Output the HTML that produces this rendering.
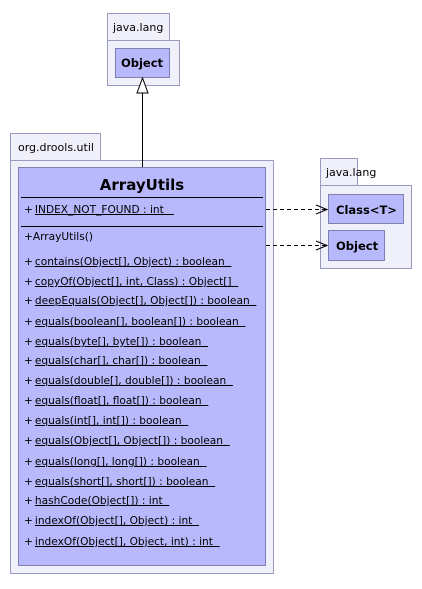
<!DOCTYPE html>
<html><head><style>
body{margin:0;background:#fff;position:relative;}
svg text{font-family:"DejaVu Sans","Liberation Sans",sans-serif;}
.t{position:absolute;left:24px;font-family:"DejaVu Sans","Liberation Sans",sans-serif;font-size:10.6px;white-space:pre;line-height:12px;color:#000;}
.t span{text-decoration:underline;margin-left:2px;}
</style></head><body>
<svg width="422" height="589" xmlns="http://www.w3.org/2000/svg" style="position:absolute;left:0;top:0">
<g stroke="#9a9ac0" fill="#f0f0fb">
<rect x="107.5" y="13.5" width="62" height="27"/>
<rect x="107.5" y="40.5" width="72" height="45"/>
<rect x="10.5" y="133.5" width="90" height="27"/>
<rect x="10.5" y="160.5" width="263" height="413"/>
<rect x="320.5" y="158.5" width="37" height="27"/>
<rect x="320.5" y="185.5" width="91" height="83"/>
</g>
<g stroke="#8080b0" fill="#b8b8fc">
<rect x="115.5" y="48.5" width="54" height="29"/>
<rect x="18.5" y="167.5" width="247" height="398"/>
<rect x="328.5" y="194.5" width="75" height="29"/>
<rect x="328.5" y="230.5" width="56" height="30"/>
</g>
<g font-size="11" fill="#000">
<text x="113" y="31">java.lang</text>
<text x="18" y="151">org.drools.util</text>
<text x="326" y="176">java.lang</text>
</g>
<g font-size="11.5" font-weight="bold" fill="#000">
<text x="142" y="67" text-anchor="middle">Object</text>
<text x="336" y="214">Class&lt;T&gt;</text>
<text x="336" y="250">Object</text>
<text x="142" y="190" text-anchor="middle" font-size="15">ArrayUtils</text>
</g>
<line x1="142.5" y1="93" x2="142.5" y2="167" stroke="#000"/>
<polygon points="142.5,78 137,93 148,93" fill="#fff" stroke="#000"/>
<line x1="21" y1="197.5" x2="263" y2="197.5" stroke="#000"/>
<line x1="21" y1="226.5" x2="263" y2="226.5" stroke="#000"/>
<g stroke="#000" stroke-dasharray="4,3">
<line x1="266" y1="209.5" x2="326" y2="209.5"/>
<line x1="266" y1="245.5" x2="326" y2="245.5"/>
</g>
<g stroke="#000" fill="none">
<polyline points="316,205 327,209.5 316,214"/>
<polyline points="316,241 327,245.5 316,250"/>
</g>
</svg>
<div class="t" style="top:204px">+<span>INDEX_NOT_FOUND : int   </span></div>
<div class="t" style="top:231px">+ArrayUtils()</div>
<div class="t" style="top:256px">+<span>contains(Object[], Object) : boolean  </span></div>
<div class="t" style="top:276px">+<span>copyOf(Object[], int, Class) : Object[]  </span></div>
<div class="t" style="top:295px">+<span>deepEquals(Object[], Object[]) : boolean  </span></div>
<div class="t" style="top:316px">+<span>equals(boolean[], boolean[]) : boolean  </span></div>
<div class="t" style="top:336px">+<span>equals(byte[], byte[]) : boolean  </span></div>
<div class="t" style="top:355px">+<span>equals(char[], char[]) : boolean  </span></div>
<div class="t" style="top:375px">+<span>equals(double[], double[]) : boolean  </span></div>
<div class="t" style="top:395px">+<span>equals(float[], float[]) : boolean  </span></div>
<div class="t" style="top:415px">+<span>equals(int[], int[]) : boolean  </span></div>
<div class="t" style="top:435px">+<span>equals(Object[], Object[]) : boolean  </span></div>
<div class="t" style="top:456px">+<span>equals(long[], long[]) : boolean  </span></div>
<div class="t" style="top:476px">+<span>equals(short[], short[]) : boolean  </span></div>
<div class="t" style="top:495px">+<span>hashCode(Object[]) : int  </span></div>
<div class="t" style="top:515px">+<span>indexOf(Object[], Object) : int  </span></div>
<div class="t" style="top:536px">+<span>indexOf(Object[], Object, int) : int  </span></div>
</body></html>
